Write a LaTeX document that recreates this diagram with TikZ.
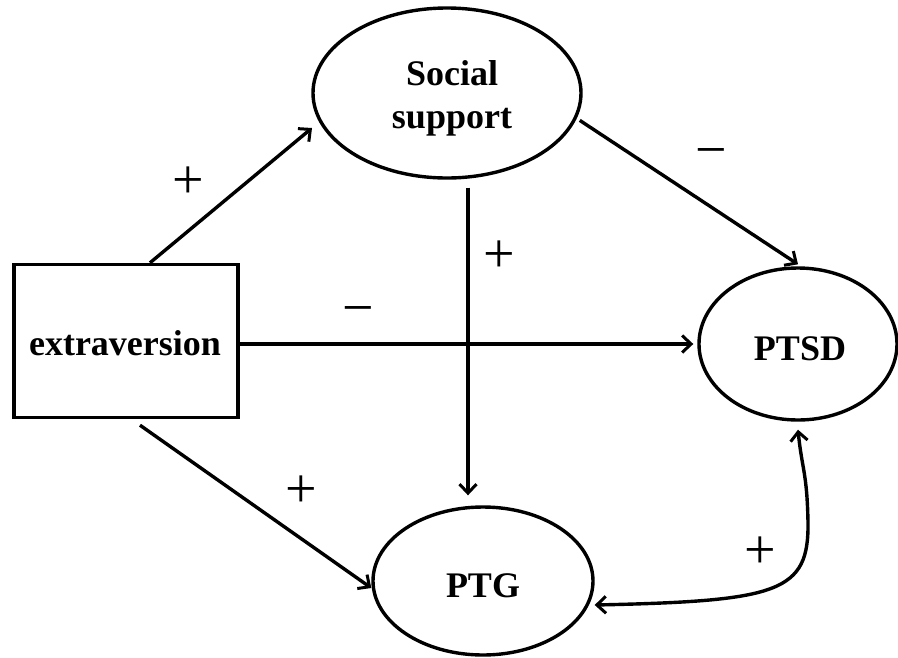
\documentclass[tikz,border=0pt]{standalone}
\usepackage{fontspec}
\setmainfont{Liberation Serif}
\usetikzlibrary{shapes.geometric,arrows.meta,calc}
\begin{document}
\begin{tikzpicture}[x=1pt,y=-1pt,
  lw/.style={line width=3.4pt},
  oval/.style={draw,lw,ellipse,inner sep=0pt,
    font=\fontsize{36}{43}\selectfont\bfseries,align=center},
  box/.style={draw,lw,rectangle,inner sep=0pt,
    font=\fontsize{36}{43}\selectfont\bfseries},
  lbl/.style={font=\fontsize{36}{43}\selectfont\bfseries,anchor=base,inner sep=0pt},
  arr/.style={lw,-{Straight Barb[length=9pt,width=17pt,line width=3pt]}},
  barr/.style={lw,{Straight Barb[length=9pt,width=17pt,line width=3pt]}-{Straight Barb[length=9pt,width=17pt,line width=3pt]}},
  sign/.style={inner sep=0pt,font=\fontsize{56}{56}\selectfont}]
\useasboundingbox (0,0) rectangle (898,657);
\fill[white] (0,0) rectangle (898,657);

\node[box,minimum width=224pt,minimum height=153pt] (ext) at (126,341) {};
\node[lbl] (extt) at (125,355) {extraversion};
\node[oval,minimum width=268pt,minimum height=170pt] (ss) at (447,93) {};
\node[lbl] (sst1) at (452,85) {Social};
\node[lbl] (sst2) at (452,128) {support};
\node[oval,minimum width=198pt,minimum height=152pt] (ptsd) at (798,344) {};
\node[lbl] (ptsdt) at (800,360) {PTSD};
\node[oval,minimum width=220pt,minimum height=148pt] (ptg) at (483,581) {};
\node[lbl] (ptgt) at (483,597) {PTG};

% connectors
\draw[arr] ([xshift=24pt]ext.north) -- ($(ss.center)+(-135,35)$);
\draw[arr] ([xshift=4pt]ss.-12) -- ([yshift=2pt]ptsd.north);
\draw[arr] ([xshift=21pt,yshift=-8pt]ss.south) -- ([xshift=-15pt,yshift=10pt]ptg.north);
\draw[arr] (ext.east |- ptsd.west) -- ([xshift=-4pt]ptsd.west);
\draw[arr] ([xshift=14pt,yshift=-6pt]ext.south) -- ([yshift=-7pt]ptg.west);
\coordinate (bend) at (808,522);
\draw[barr] ([yshift=-24pt]ptg.east) .. controls +(185,-4) and +(1,70) .. (bend)
  .. controls +(-1,-50) and +(4,40) .. ([yshift=-8pt]ptsd.south);

% signs
\node[sign] (s1) at (188,183) {+};
\node[sign] (s2) at (711,158) {−};
\node[sign] (s3) at (499,257) {+};
\node[sign] (s4) at (358,316) {−};
\node[sign] (s5) at (301,492) {+};
\node[sign] (s6) at (760,553) {+};
\end{tikzpicture}
\end{document}
